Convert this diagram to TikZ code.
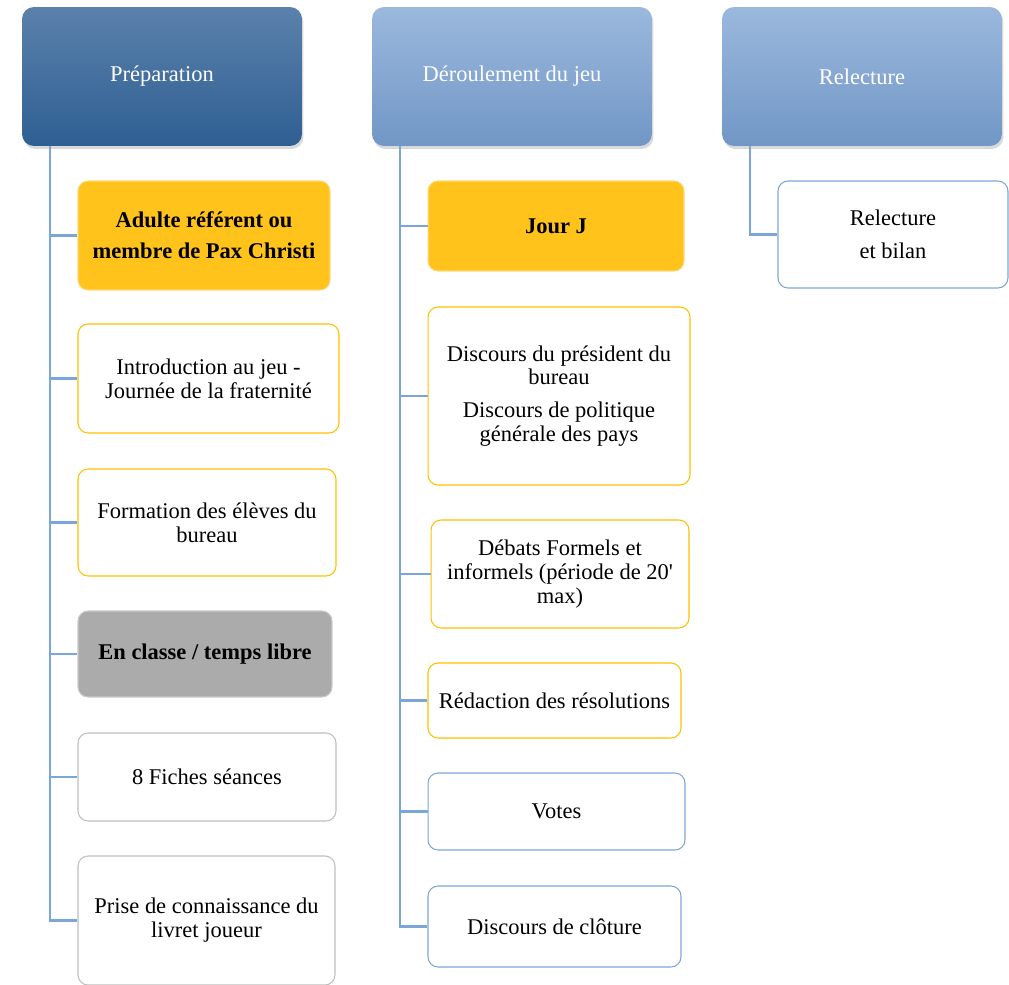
\documentclass[tikz,border=0pt]{standalone}
\usepackage{fontspec}
\setmainfont{Liberation Serif}
\usepackage{tikz}
\usetikzlibrary{shadows}
\definecolor{prepTop}{HTML}{5B81AB}
\definecolor{prepBot}{HTML}{2E5F93}
\definecolor{paleTop}{HTML}{9BB8DD}
\definecolor{paleBot}{HTML}{7197C6}
\definecolor{gold}{HTML}{FFC31C}
\definecolor{goldLine}{HTML}{FFC000}
\definecolor{goldEdge}{HTML}{FDD776}
\definecolor{greyFill}{HTML}{ABABAB}
\definecolor{greyEdge}{HTML}{C9C9C9}
\definecolor{greyLine}{HTML}{BFBFBF}
\definecolor{blueLine}{HTML}{7EA6D6}
\definecolor{linkBlue}{HTML}{7AA6DA}
\tikzset{
  txt/.style={font=\fontsize{12.8}{13.6}\selectfont, align=center, text=black},
  head/.style={txt, rectangle, rounded corners=0.24cm, text=white,
    minimum width=5.6cm, minimum height=2.78cm,
    drop shadow={opacity=0.3, shadow xshift=0.03cm, shadow yshift=-0.06cm}},
  headdark/.style={head, top color=prepTop, bottom color=prepBot},
  headpale/.style={head, top color=paleTop, bottom color=paleBot},
  item/.style={txt, rectangle, rounded corners=0.2cm, line width=0.6pt, inner sep=2pt},
  golditem/.style={item, fill=gold, draw=goldEdge, font=\fontsize{12.8}{13.6}\selectfont\bfseries},
  greyitem/.style={item, fill=greyFill, draw=greyEdge, font=\fontsize{12.8}{13.6}\selectfont\bfseries},
  yitem/.style={item, fill=white, draw=goldLine},
  gitem/.style={item, fill=white, draw=greyLine},
  bitem/.style={item, fill=white, draw=blueLine},
  link/.style={draw=linkBlue, line width=1.2pt}
}

\begin{document}
\begin{tikzpicture}[x=0.02cm,y=-0.02cm]
\useasboundingbox (0,0) rectangle (1009,985);

\node[headdark] (prep) at (162,76.5) {Préparation};
\node[headpale] (deroul) at (512,76.5) {Déroulement du jeu};
\node[headpale] (relec) at (862,76.5) {Relecture};

\node[golditem, minimum width=5.04cm, minimum height=2.18cm] (adulte) at (204,235.5) {Adulte référent ou\\[0.14cm]membre de Pax Christi};
\node[yitem, minimum width=5.22cm, minimum height=2.18cm] (intro) at (208.5,378.5) {Introduction au jeu -\\Journée de la fraternité};
\node[yitem, minimum width=5.16cm, minimum height=2.14cm] (formation) at (207,522.5) {Formation des élèves du\\bureau};
\node[greyitem, minimum width=5.08cm, minimum height=1.72cm] (classe) at (205,654) {En classe / temps libre};
\node[gitem, minimum width=5.16cm, minimum height=1.76cm] (fiches) at (207,777) {8 Fiches séances};
\node[gitem, minimum width=5.14cm, minimum height=2.58cm] (prise) at (206.5,920.5) {Prise de connaissance du\\livret joueur};

\node[golditem, minimum width=5.12cm, minimum height=1.8cm] (jour) at (556,226) {Jour J};
\node[yitem, minimum width=5.24cm, minimum height=3.56cm] (discours) at (559,396) {Discours du président du\\bureau\\[0.18cm]Discours de politique\\générale des pays};
\node[yitem, minimum width=5.16cm, minimum height=2.16cm] (debats) at (560,574) {Débats Formels et\\informels (période de 20\textquotesingle\\max)};
\node[yitem, minimum width=5.06cm, minimum height=1.5cm] (redaction) at (554.5,700.5) {Rédaction des résolutions};
\node[bitem, minimum width=5.14cm, minimum height=1.54cm] (votes) at (556.5,811.5) {Votes};
\node[bitem, minimum width=5.06cm, minimum height=1.62cm] (cloture) at (554.5,926.5) {Discours de clôture};

\node[bitem, minimum width=4.6cm, minimum height=2.14cm] (bilan) at (893,234.5) {Relecture\\[0.18cm]et bilan};

\foreach \c in {adulte,intro,formation,classe,fiches,prise}
  \draw[link] ([xshift=0.56cm]prep.south west) |- (\c.west);
\foreach \c in {jour,discours,debats,redaction,votes,cloture}
  \draw[link] ([xshift=0.56cm]deroul.south west) |- (\c.west);
\draw[link] ([xshift=0.56cm]relec.south west) |- (bilan.west);
\end{tikzpicture}
\end{document}
